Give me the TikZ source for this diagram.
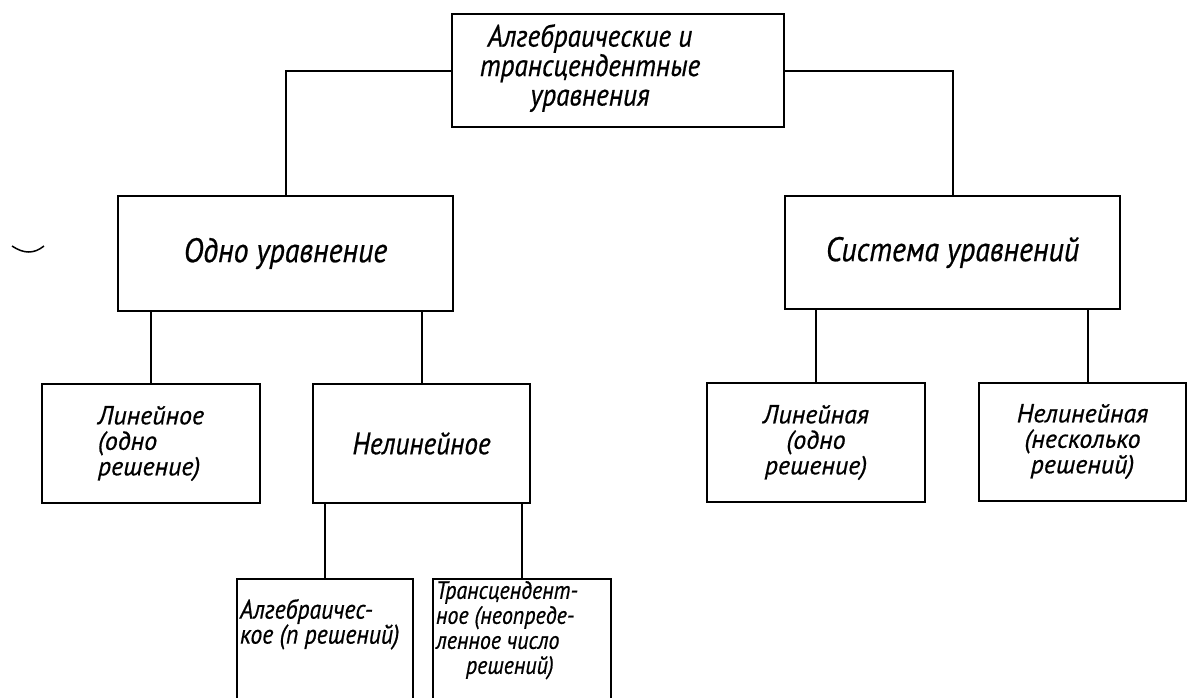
\documentclass[tikz,border=0pt]{standalone}
\usepackage{fontspec}
\setmainfont{PT Sans}[FakeStretch=0.88, FakeBold=0.6]
\newfontfamily\widefont{PT Sans}[FakeBold=0.6]
\usetikzlibrary{positioning}

\begin{document}
\begin{tikzpicture}[
    x=1pt, y=-1pt,
    line width=2pt,
    box/.style={draw, line width=2pt, inner sep=0pt, align=center,
        font=\widefont\itshape\fontsize{26}{25.5}\selectfont},
    tallbox/.style={draw, line width=2pt, inner sep=0pt, anchor=north,
        font=\itshape\fontsize{27}{25}\selectfont}
]
\useasboundingbox (0,0) rectangle (1190,697);
\clip (0,0) rectangle (1190,697);

% top
\node[draw, line width=2pt, minimum width=332, minimum height=113] (root) at (618,70.5) {};
\node[align=center, font=\itshape\fontsize{31}{29.5}\selectfont] (roottext) at (590,68)
    {Алгебраические и\\трансцендентные\\уравнения};

% second level
\node[box, minimum width=335, minimum height=115, font=\itshape\fontsize{34}{30}\selectfont] (one) at (285.5,253.5) {Одно уравнение};
\node[box, minimum width=335, minimum height=113, font=\itshape\fontsize{34}{30}\selectfont] (sys) at (952.5,252.5) {Система уравнений};

\draw (root.west) -| (one.north);
\draw (root.east) -| (sys.north);

% third level
\node[box, align=left, minimum width=218, minimum height=119] (lin) at (151,443.5)
    {Линейное\\(одно\\решение)};
\node[box, minimum width=217, minimum height=119, font=\itshape\fontsize{31}{25}\selectfont] (nonlin) at (421.5,443.5) {Нелинейное};
\node[box, minimum width=218, minimum height=119] (linsys) at (816,442.5)
    {Линейная\\(одно\\решение)};
\node[box, minimum width=207, minimum height=118] (nonlinsys) at (1082.5,441.5)
    {Нелинейная\\(несколько\\решений)};

\draw (lin.north) -- (lin.north |- one.south);
\draw (nonlin.north) -- (nonlin.north |- one.south);
\draw (linsys.north) -- (linsys.north |- sys.south);
\draw (1088,442 |- nonlinsys.north) -- (1088,442 |- sys.south);

% bottom
\node[tallbox, minimum width=176] (alg) at (325,578)
    {\parbox[c][150pt][t]{170pt}{\vspace*{20pt}Алгебраичес-\\кое (n решений)}};
\node[tallbox, minimum width=178, font=\itshape\fontsize{25}{25}\selectfont] (trans) at (522,578)
    {\parbox[c][150pt][t]{172pt}{\vspace*{2pt}Трансцендент-\\ное (неопреде-\\ленное число\\\hspace*{30pt}решений)}};

\draw (alg.north) -- (alg.north |- nonlin.south);
\draw (trans.north) -- (trans.north |- nonlin.south);

% scan mark
\draw[line width=1.5pt] (12,246) .. controls (24,254) and (34,254) .. (44,246);

\end{tikzpicture}
\end{document}
